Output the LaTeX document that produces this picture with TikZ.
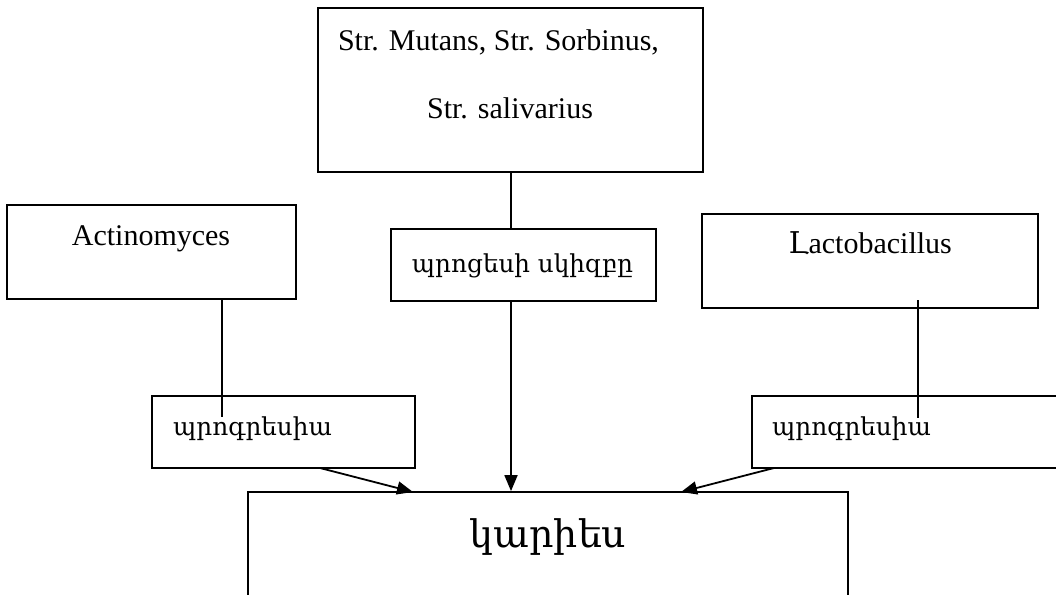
\documentclass[tikz,border=0pt]{standalone}
\usepackage{fontspec}
\setmainfont{Liberation Serif}
\newfontfamily\armfont{DejaVu Serif}
\usetikzlibrary{arrows.meta}
\begin{document}
\begin{tikzpicture}[x=1pt,y=-1pt,
  box/.style={draw,line width=1.8pt,inner sep=0pt},
  lbl/.style={anchor=base,inner sep=0pt,font=\fontsize{30}{36}\selectfont},
  arm/.style={anchor=base,inner sep=0pt,font=\armfont\fontsize{24.7}{30}\selectfont},
  conn/.style={line width=1.8pt},
  arr/.style={line width=1.8pt,-{Triangle[length=16pt,width=13pt]}}]
\useasboundingbox[fill=white] (0,0) rectangle (1056,594);
% boxes
\node[box,minimum width=385pt,minimum height=164pt] (top) at (510.5,90) {};
\node[box,minimum width=265pt,minimum height=72pt] (mid) at (523.5,265) {};
\node[box,minimum width=289pt,minimum height=94pt] (act) at (151.5,252) {};
\node[box,minimum width=336pt,minimum height=94pt] (lac) at (870,261) {};
\node[box,minimum width=263pt,minimum height=72pt] (progL) at (283.5,432) {};
\node[box,minimum width=330pt,minimum height=72pt] (progR) at (917,432) {};
\node[box,minimum width=600pt,minimum height=160pt] (kar) at (548,572) {};
% texts
\node[lbl] (t1) at (498.5,50) {Str. Mutans, Str. Sorbinus,};
\node[lbl] (t2) at (510,118) {Str. salivarius};
\node[lbl] (tact) at (151,245) {Actinomyces};
\node[lbl] (tlac) at (870,253) {{\armfont Լ}actobacillus};
\node[arm] (tmid) at (522.5,272) {պրոցեսի սկիզբը};
\node[arm,anchor=base west] (tpl) at (173,435) {պրոգրեսիա};
\node[arm,anchor=base west] (tpr) at (772,435) {պրոգրեսիա};
\node[arm,font=\armfont\fontsize{38}{44}\selectfont] (tkar) at (548,547) {կարիես};
% coordinates
\coordinate (vx) at (511,0);
\coordinate (actend) at (222,417);
\coordinate (lacstart) at (918,300);
\coordinate (lacend) at (918,418);
\coordinate (plstart) at (320,468);
\coordinate (pltip) at (413,492);
\coordinate (prstart) at (774,468);
\coordinate (prtip) at (681,492);
% connectors
\draw[conn] (top.south -| vx) -- (mid.north -| vx);
\draw[arr] (mid.south -| vx) -- (kar.north -| vx);
\draw[conn] (act.south -| actend) -- (actend);
\draw[conn] (lacstart) -- (lacend);
\draw[arr] (plstart) -- (pltip);
\draw[arr] (prstart) -- (prtip);
\end{tikzpicture}
\end{document}
